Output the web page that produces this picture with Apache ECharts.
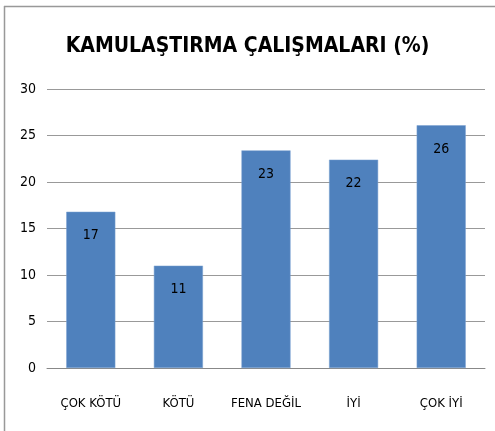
<!DOCTYPE html>
<html>
<head>
<meta charset="utf-8">
<script src="https://cdn.jsdelivr.net/npm/echarts@6/dist/echarts.min.js"></script>
<style>html,body{margin:0;padding:0;background:#fff}#c{width:495px;height:431px}</style>
</head>
<body>
<div id="c"></div>
<script>
const titleText = 'KAMULAŞTIRMA ÇALIŞMALARI (%)';
const categories = ['ÇOK KÖTÜ', 'KÖTÜ', 'FENA DEĞİL', 'İYİ', 'ÇOK İYİ'];
const values = [16.8, 11.0, 23.4, 22.4, 26.1];
const yTicks = [0, 5, 10, 15, 20, 25, 30];

const FONT = '"DejaVu Sans Condensed", "Liberation Sans Narrow", sans-serif';
const chart = echarts.init(document.getElementById('c'), null, {renderer: 'canvas'});
chart.setOption({
  animation: false,
  backgroundColor: '#fff',
  title: {
    text: titleText,
    left: 'center',
    top: 31,
    textStyle: {fontFamily: FONT, fontWeight: 'bold', fontSize: 21, color: '#000'}
  },
  graphic: [
    {type: 'line', shape: {x1: 4, y1: 6.5, x2: 495, y2: 6.5}, style: {stroke: '#999', lineWidth: 1.5}},
    {type: 'line', shape: {x1: 4.5, y1: 6, x2: 4.5, y2: 431}, style: {stroke: '#999', lineWidth: 1.5}}
  ],
  grid: {left: 47, right: 10, top: 89, bottom: 63},
  xAxis: {
    type: 'category',
    data: categories,
    axisTick: {show: false},
    axisLine: {lineStyle: {color: '#888'}},
    axisLabel: {interval: 0, margin: 29, fontFamily: FONT, fontSize: 13, color: '#000'}
  },
  yAxis: {
    type: 'value',
    min: yTicks[0],
    max: yTicks[yTicks.length - 1],
    interval: 5,
    axisLine: {show: false},
    axisTick: {show: false},
    splitLine: {lineStyle: {color: '#999'}},
    axisLabel: {margin: 11, fontFamily: FONT, fontSize: 14, color: '#000'}
  },
  series: [{
    type: 'bar',
    data: values,
    barWidth: '56%',
    itemStyle: {color: '#4F81BD', borderColor: '#7aa0d0', borderWidth: 0.5},
    label: {
      show: true,
      position: 'insideTop',
      distance: 17,
      fontFamily: FONT,
      fontSize: 14,
      color: '#000',
      formatter: p => Math.round(p.value)
    }
  }]
});
</script>
</body>
</html>
